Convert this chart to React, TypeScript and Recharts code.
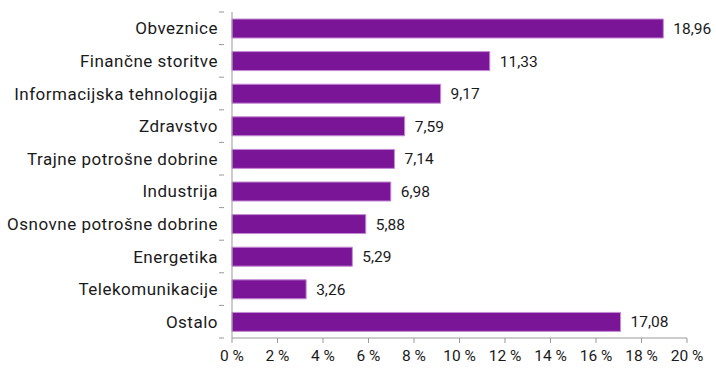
import { BarChart, Bar, XAxis, YAxis, LabelList } from "recharts";

const categories = [
  "Obveznice",
  "Finančne storitve",
  "Informacijska tehnologija",
  "Zdravstvo",
  "Trajne potrošne dobrine",
  "Industrija",
  "Osnovne potrošne dobrine",
  "Energetika",
  "Telekomunikacije",
  "Ostalo",
];
const shares = [18.96, 11.33, 9.17, 7.59, 7.14, 6.98, 5.88, 5.29, 3.26, 17.08];
const xTicks = [0, 2, 4, 6, 8, 10, 12, 14, 16, 18, 20];

const data = categories.map((name, i) => ({ name, value: shares[i] }));

const W = 716;
const H = 369;
const TOP = 12;
const BOTTOM = 31;
const BAND = (H - TOP - BOTTOM) / categories.length;
const FONT = "Roboto, sans-serif";

function CategoryTick({ x, y, payload, index }: any) {
  return (
    <g>
      <text x={x - 6} y={y} dy={6} textAnchor="end" fontSize={17} letterSpacing={0.5} fill="#1a1a1a" fontFamily={FONT}>
        {payload.value}
      </text>
      <line x1={x - 5} x2={x} y1={y - BAND / 2} y2={y - BAND / 2} stroke="#999" />
      {index === categories.length - 1 && (
        <line x1={x - 5} x2={x} y1={y + BAND / 2} y2={y + BAND / 2} stroke="#999" />
      )}
    </g>
  );
}

export default function App() {
  return (
    <div style={{ position: "absolute", left: 0, top: 0, background: "#fff" }}>
      <BarChart width={W} height={H} data={data} layout="vertical" margin={{ top: TOP, right: 29, bottom: 1, left: 0 }}>
        <XAxis
          type="number"
          domain={[0, 20]}
          ticks={xTicks}
          tickFormatter={(v: number) => `${v} %`}
          axisLine={{ stroke: "#999" }}
          tickLine={{ stroke: "#999" }}
          tickSize={5}
          tickMargin={7}
          height={30}
          tick={{ fontSize: 15.5, fill: "#1a1a1a", fontFamily: FONT }}
          interval={0}
        />
        <YAxis
          type="category"
          dataKey="name"
          width={232}
          axisLine={{ stroke: "#999" }}
          tickLine={false}
          tick={<CategoryTick />}
          interval={0}
        />
        <Bar dataKey="value" fill="#7B1597" stroke="#C48CD4" strokeWidth={1} barSize={19} isAnimationActive={false}>
          <LabelList
            dataKey="value"
            position="right"
            offset={10}
            formatter={(v: number) => v.toFixed(2).replace(".", ",")}
            style={{ fontSize: 15.5, fill: "#1a1a1a", fontFamily: FONT }}
          />
        </Bar>
      </BarChart>
    </div>
  );
}
